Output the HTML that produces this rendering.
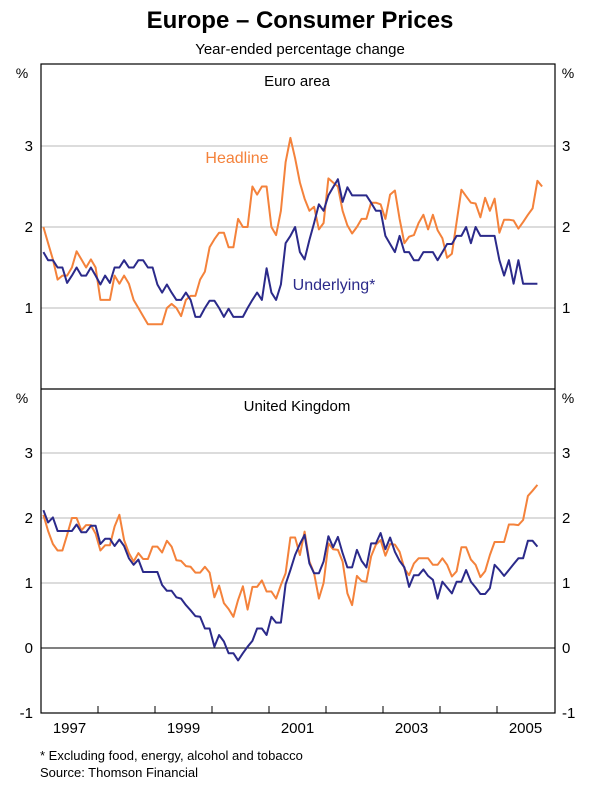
<!DOCTYPE html>
<html><head><meta charset="utf-8"><style>
body{margin:0;background:#fff;}
svg{display:block;font-family:"Liberation Sans",Arial,sans-serif;}
</style></head><body>
<svg id="chart" width="600" height="788" viewBox="0 0 600 788">
<text x="300" y="28" text-anchor="middle" font-size="24" font-weight="bold">Europe – Consumer Prices</text>
<text x="300" y="54" text-anchor="middle" font-size="15">Year-ended percentage change</text>
<g id="grid"></g>
<g id="series"></g>
<rect x="41" y="64" width="514" height="649" fill="none" stroke="#000" stroke-width="1.2"/>
<line x1="41" y1="389" x2="555" y2="389" stroke="#000" stroke-width="1.2"/>
<text x="297" y="86" text-anchor="middle" font-size="15">Euro area</text>
<text x="297" y="411" text-anchor="middle" font-size="15">United Kingdom</text>
<text x="237" y="163" text-anchor="middle" font-size="16" fill="#f4823b">Headline</text>
<text x="334" y="290" text-anchor="middle" font-size="16" fill="#2b2a8a">Underlying*</text>
<text x="22" y="78" text-anchor="middle" font-size="14">%</text>
<text x="568" y="78" text-anchor="middle" font-size="14">%</text>
<text x="22" y="403" text-anchor="middle" font-size="14">%</text>
<text x="568" y="403" text-anchor="middle" font-size="14">%</text>
<text x="40" y="760" font-size="13">*   Excluding food, energy, alcohol and tobacco</text>
<text x="40" y="777" font-size="13">Source: Thomson Financial</text>
</svg>
<script>
const years=["1997","1999","2001","2003","2005"];
const yearLabelIdx=[0,2,4,6,8];
const euroTicks=[1,2,3];
const ukTicks=[-1,0,1,2,3];
const euroHeadline=[2.0,1.8,1.6,1.35,1.4,1.4,1.5,1.7,1.6,1.5,1.6,1.5,
1.1,1.1,1.1,1.4,1.3,1.4,1.3,1.1,1.0,0.9,0.8,0.8,
0.8,0.8,1.0,1.05,1.0,0.9,1.1,1.15,1.15,1.35,1.45,1.75,
1.85,1.93,1.93,1.75,1.75,2.1,2.0,2.0,2.5,2.4,2.5,2.5,
2.0,1.9,2.2,2.8,3.1,2.85,2.55,2.35,2.2,2.25,1.97,2.05,
2.6,2.55,2.5,2.2,2.02,1.92,2.0,2.1,2.1,2.3,2.3,2.28,
2.1,2.4,2.45,2.1,1.8,1.88,1.9,2.05,2.15,1.97,2.15,1.96,
1.86,1.62,1.67,2.06,2.46,2.38,2.3,2.29,2.12,2.36,2.2,2.35,
1.93,2.09,2.09,2.08,1.98,2.06,2.15,2.23,2.57,2.5];
const euroUnderlying=[1.69,1.59,1.59,1.5,1.5,1.31,1.4,1.5,1.4,1.4,1.5,1.4,
1.29,1.4,1.31,1.5,1.5,1.59,1.5,1.5,1.59,1.59,1.5,1.5,
1.29,1.19,1.29,1.19,1.1,1.1,1.19,1.1,0.89,0.89,1.0,1.09,
1.09,1.0,0.89,0.99,0.89,0.89,0.89,1.0,1.1,1.19,1.1,1.49,
1.19,1.1,1.29,1.8,1.89,2.0,1.69,1.6,1.84,2.05,2.28,2.2,
2.39,2.49,2.59,2.31,2.49,2.39,2.39,2.39,2.39,2.3,2.2,2.2,
1.89,1.79,1.69,1.89,1.69,1.69,1.59,1.59,1.69,1.69,1.69,1.59,
1.69,1.79,1.79,1.89,1.89,2.0,1.8,2.0,1.89,1.89,1.89,1.89,
1.59,1.4,1.59,1.3,1.59,1.3,1.3,1.3,1.3];
const ukHeadline=[2.05,1.8,1.6,1.5,1.5,1.74,2.0,2.0,1.81,1.89,1.89,1.76,
1.5,1.58,1.58,1.87,2.05,1.66,1.46,1.33,1.46,1.37,1.37,1.56,
1.56,1.47,1.65,1.56,1.35,1.34,1.26,1.25,1.16,1.16,1.25,1.16,
0.78,0.96,0.69,0.6,0.48,0.74,0.95,0.59,0.94,0.94,1.04,0.87,
0.87,0.76,0.97,1.15,1.70,1.70,1.43,1.79,1.33,1.15,0.76,1.0,
1.61,1.52,1.51,1.33,0.84,0.66,1.11,1.03,1.02,1.41,1.59,1.66,
1.42,1.60,1.59,1.48,1.22,1.12,1.30,1.38,1.38,1.38,1.28,1.28,
1.38,1.28,1.10,1.18,1.55,1.55,1.36,1.28,1.09,1.18,1.43,1.63,
1.63,1.63,1.90,1.90,1.89,1.97,2.34,2.42,2.51];
const ukUnderlying=[2.12,1.93,2.01,1.8,1.8,1.8,1.8,1.9,1.78,1.78,1.88,1.88,
1.6,1.68,1.68,1.57,1.67,1.57,1.38,1.28,1.36,1.17,1.17,1.17,
1.17,0.97,0.88,0.88,0.78,0.76,0.66,0.58,0.49,0.48,0.30,0.30,
0.02,0.20,0.10,-0.08,-0.08,-0.19,-0.08,0.02,0.11,0.30,0.30,0.20,
0.48,0.39,0.39,0.98,1.2,1.43,1.6,1.74,1.30,1.15,1.15,1.33,
1.72,1.55,1.71,1.46,1.24,1.24,1.51,1.34,1.24,1.61,1.61,1.77,
1.52,1.70,1.48,1.34,1.24,0.94,1.12,1.12,1.21,1.11,1.05,0.76,
1.02,0.93,0.84,1.02,1.02,1.20,1.02,0.93,0.83,0.83,0.92,1.28,
1.20,1.11,1.20,1.29,1.38,1.38,1.65,1.65,1.56];

const NS="http://www.w3.org/2000/svg";
const X0=41, PXY=57;
function xOf(m){return X0+(m+0.5)*PXY/12;}
function yEuro(v){return 389-v*81;}
function yUK(v){return 648-v*65;}
const grid=document.getElementById('grid');
const ser=document.getElementById('series');
function mk(tag,attrs,parent){const e=document.createElementNS(NS,tag);for(const k in attrs)e.setAttribute(k,attrs[k]);parent.appendChild(e);return e;}

euroTicks.forEach(v=>{
  const y=yEuro(v);
  const l=mk('line',{x1:41,x2:555,y1:y,y2:y,stroke:'#b8b8b8','stroke-width':1},grid);
  
  
  const t1=mk('text',{x:33,y:y+5,'text-anchor':'end','font-size':15},grid);t1.textContent=v;
  
  
  const t2=mk('text',{x:562,y:y+5,'font-size':15},grid);t2.textContent=v;
  
  
});
ukTicks.forEach(v=>{
  const y=yUK(v);
  if(v>-1){
    const l=mk('line',{x1:41,x2:555,y1:y,y2:y,stroke:v===0?'#000':'#b8b8b8','stroke-width':1},grid);
    
    
  }
  const t1=mk('text',{x:33,y:y+5,'text-anchor':'end','font-size':15},grid);t1.textContent=v;
  
  
  const t2=mk('text',{x:562,y:y+5,'font-size':15},grid);t2.textContent=v;
  
  
});
for(let i=1;i<9;i++){
  const x=X0+i*PXY;
  const tk=mk('line',{x1:x,x2:x,y1:713,y2:706,stroke:'#000','stroke-width':1},grid);
  
  
}
years.forEach((yr,i)=>{
  const t=mk('text',{x:X0+(yearLabelIdx[i]+0.5)*PXY,y:733,'text-anchor':'middle','font-size':15},grid);
  t.textContent=yr;
  
  
});
function line(data,yf,color,name){
  const pts=data.map((v,i)=>xOf(i).toFixed(1)+','+yf(v).toFixed(1)).join(' ');
  const p=mk('polyline',{points:pts,fill:'none',stroke:color,'stroke-width':2,'stroke-linejoin':'round'},ser);
  
  
}
line(euroHeadline,yEuro,'#f4823b','euro-headline-line');
line(euroUnderlying,yEuro,'#2b2a8a','euro-underlying-line');
line(ukHeadline,yUK,'#f4823b','uk-headline-line');
line(ukUnderlying,yUK,'#2b2a8a','uk-underlying-line');
</script>
</body></html>
